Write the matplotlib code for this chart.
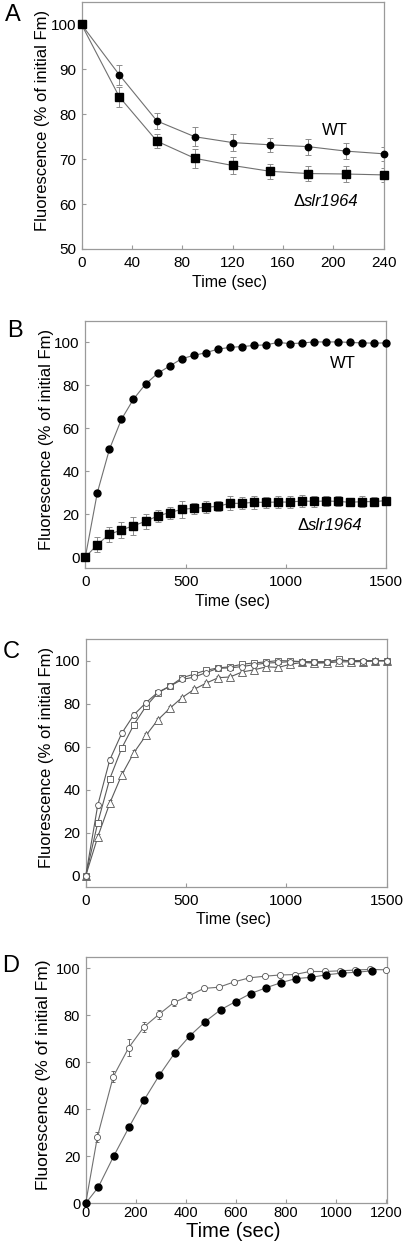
import numpy as np
import matplotlib
matplotlib.use('Agg')
import matplotlib.pyplot as plt

plt.rcParams['font.family'] = ['Liberation Sans', 'DejaVu Sans']

# panel A: quenching, 30 s steps
a_time = [0, 30, 60, 90, 120, 150, 180, 210, 240]
a_wt = [100, 88.8, 78.5, 75.0, 73.7, 73.2, 72.8, 71.8, 71.2]
a_wt_err = [0, 2.2, 1.8, 2.1, 1.8, 1.6, 1.8, 1.7, 1.6]
a_mut = [100, 83.9, 74.0, 70.2, 68.6, 67.3, 66.8, 66.7, 66.5]
a_mut_err = [0, 2.2, 1.6, 2.1, 1.9, 1.7, 1.7, 1.8, 1.5]

# panel B: recovery, 60 s steps
b_time = list(range(0, 1501, 60))
b_wt = [0, 30.1, 50.2, 64.2, 73.6, 80.6, 85.6, 89.0, 92.4, 94.0, 95.2, 96.9, 97.7,
        98.1, 98.6, 98.9, 100.0, 99.5, 99.7, 100.3, 100.2, 100.3, 100.0, 99.8, 99.7, 99.8]
b_mut = [0, 5.9, 10.7, 12.7, 14.7, 16.7, 19.2, 20.8, 22.3, 22.8, 23.3, 23.7, 25.1,
         25.1, 25.6, 25.6, 25.7, 25.7, 26.2, 26.0, 26.2, 26.0, 25.6, 25.9, 25.9, 26.4]
b_mut_err = [0, 3.5, 3.5, 3.6, 4.2, 3.6, 2.8, 2.8, 3.8, 2.5, 2.8, 2.3, 3.2,
             2.8, 2.9, 2.6, 2.6, 2.6, 2.8, 2.6, 2.4, 2.3, 1.8, 2.4, 2.2, 1.9]

# panel C: three open-symbol series
c_time = list(range(0, 1501, 60))
c_circ = [0, 32.8, 53.9, 66.3, 74.8, 80.4, 85.3, 88.1, 91.2, 92.3, 94.4, 96.4, 96.6,
          97.2, 98.1, 98.8, 99.1, 99.5, 99.5, 99.5, 99.5, 100.0, 100.0, 100.0, 100.0, 100.0]
c_sq = [0, 24.7, 45.1, 59.4, 70.2, 78.7, 85.0, 88.1, 92.0, 93.7, 95.5, 96.6, 97.1,
        98.3, 98.9, 99.4, 100.0, 99.8, 99.5, 99.1, 99.2, 100.5, 99.7, 99.5, 100.0, 100.0]
c_tri = [0, 18.1, 33.8, 47.0, 57.2, 65.2, 72.5, 77.9, 82.8, 86.6, 89.5, 92.0, 92.4,
         94.7, 95.7, 97.1, 96.8, 98.3, 99.1, 98.8, 98.9, 99.4, 99.4, 99.5, 99.8, 99.8]
c_err = [0, 1.2, 1.5, 1.5, 1.3, 1.2, 1.0, 1.0, 0.9, 0.9, 0.8, 0.8, 0.8,
         0.7, 0.7, 0.7, 0.6, 0.6, 0.6, 0.6, 0.6, 0.6, 0.6, 0.6, 0.6, 0.6]

# panel D
d_open_time = [0, 47, 110, 172, 232, 292, 352, 412, 472, 532, 594, 654, 716,
               775, 835, 895, 957, 1016, 1076, 1136, 1198]
d_open = [0, 28.4, 53.9, 66.3, 75.0, 80.4, 85.5, 88.3, 91.5, 92.0, 94.3, 96.0, 96.7,
          97.2, 97.4, 98.7, 98.7, 99.0, 99.3, 99.6, 99.4]
d_open_err = [0, 2.1, 2.3, 3.6, 2.0, 1.8, 1.5, 1.6, 1.2, 0.8, 0.8, 0.8, 0.8,
              0.7, 0.7, 0.7, 0.7, 0.7, 0.7, 0.7, 0.7]
d_fill_time = [0, 50, 112, 173, 234, 294, 355, 417, 478, 539, 599, 659, 719,
               779, 840, 900, 961, 1023, 1084, 1144]
d_fill = [0, 6.8, 20.1, 32.4, 44.1, 54.5, 63.9, 71.4, 77.4, 82.4, 85.9, 89.3, 91.7,
          93.9, 95.7, 96.2, 97.3, 98.0, 98.4, 99.0]

W, H = 405, 1247
fig = plt.figure(figsize=(W / 100, H / 100), dpi=100)

spine_c = '#9a9a9a'
line_c = '#707070'
err_c = '#8c8c8c'
ylab = 'Fluorescence (% of initial Fm)'


def px_axes(left, top, right, bottom):
    return fig.add_axes([left / W, 1 - bottom / H, (right - left) / W, (bottom - top) / H])


def style(ax, tsize=11):
    for s in ax.spines.values():
        s.set_color(spine_c)
        s.set_linewidth(0.9)
    ax.tick_params(direction='in', length=3, width=0.8, color=spine_c,
                   labelsize=tsize, top=False, right=False)
    ax.tick_params(axis='x', pad=5)
    ax.tick_params(axis='y', pad=4)


def labels(ax, xl_y, xsize=11.5, ysize=12, yl_x=-0.13):
    ax.set_xlabel('Time (sec)', fontsize=xsize, va='center')
    ax.xaxis.set_label_coords(0.49, xl_y)
    ax.set_ylabel(ylab, fontsize=ysize, va='center')
    ax.yaxis.set_label_coords(yl_x, 0.52)


def mutant_label(ax, x, y):
    # upright delta followed by the italic gene name
    t = ax.text(x, y, '\u0394', fontsize=12, ha='right', va='center')
    ax.annotate('slr1964', xy=(1, 0.5), xycoords=t, fontsize=12, style='italic',
                ha='left', va='center')


# ---- A
ax = px_axes(81.5, 2, 383.5, 249)
style(ax)
ax.errorbar(a_time, a_wt, yerr=a_wt_err, fmt='none', ecolor=err_c, elinewidth=0.7,
            capsize=2, capthick=0.7, zorder=1)
ax.errorbar(a_time, a_mut, yerr=a_mut_err, fmt='none', ecolor=err_c, elinewidth=0.7,
            capsize=2, capthick=0.7, zorder=1)
ax.plot(a_time, a_wt, '-', color=line_c, lw=0.8, marker='o', ms=4.6,
        mfc='black', mec='black', clip_on=False, zorder=3)
ax.plot(a_time, a_mut, '-', color=line_c, lw=0.8, marker='s', ms=5.2,
        mfc='black', mec='black', clip_on=False, zorder=3)
ax.set_xlim(0, 240)
ax.set_ylim(50, 105)
ax.set_xticks(np.arange(0, 241, 40))
ax.set_yticks(np.arange(50, 101, 10))
ax.text(201, 76.3, 'WT', fontsize=12, ha='center', va='center')
mutant_label(ax, 177, 60.5)
labels(ax, -0.134)

# ---- B
ax = px_axes(85.3, 321, 386.3, 568)
style(ax)
ax.errorbar(b_time, b_mut, yerr=b_mut_err, fmt='none', ecolor=err_c, elinewidth=0.7,
            capsize=2, capthick=0.7, zorder=1)
ax.plot(b_time, b_wt, '-', color=line_c, lw=0.8, marker='o', ms=5.0,
        mfc='black', mec='black', clip_on=False, zorder=3)
ax.plot(b_time, b_mut, '-', color=line_c, lw=0.8, marker='s', ms=5.4,
        mfc='black', mec='black', clip_on=False, zorder=3)
ax.set_xlim(0, 1500)
ax.set_ylim(-5, 110)
ax.set_xticks([0, 500, 1000, 1500])
ax.set_yticks(np.arange(0, 101, 20))
ax.text(1284, 90.2, 'WT', fontsize=12, ha='center', va='center')
mutant_label(ax, 1112, 15)
labels(ax, -0.135)

# ---- C
ax = px_axes(85.7, 639, 386.7, 886.7)
style(ax)
for ys, mk, ms in [(c_tri, '^', 5.2), (c_sq, 's', 4.6), (c_circ, 'o', 4.2)]:
    ax.errorbar(c_time, ys, yerr=c_err, fmt='none', ecolor='#555555', elinewidth=0.6,
                capsize=1.2, capthick=0.6, zorder=1)
    ax.plot(c_time, ys, '-', color='#5a5a5a', lw=0.8, marker=mk, ms=ms,
            mfc='white', mec='#555555', mew=0.6, clip_on=False, zorder=3)
ax.set_xlim(0, 1500)
ax.set_ylim(-5, 110)
ax.set_xticks([0, 500, 1000, 1500])
ax.set_yticks(np.arange(0, 101, 20))
labels(ax, -0.134)

# ---- D
ax = px_axes(85.7, 956.7, 387.3, 1203.3)
style(ax, tsize=10.5)
ax.errorbar(d_open_time, d_open, yerr=d_open_err, fmt='none', ecolor='#555555',
            elinewidth=0.6, capsize=1.5, capthick=0.6, zorder=1)
ax.plot(d_open_time, d_open, '-', color=line_c, lw=0.8, marker='o', ms=4.4,
        mfc='white', mec='#555555', mew=0.6, clip_on=False, zorder=3)
ax.plot(d_fill_time, d_fill, '-', color=line_c, lw=0.8, marker='o', ms=5.0,
        mfc='black', mec='black', clip_on=False, zorder=4)
ax.set_xlim(0, 1205)
ax.set_ylim(0, 105)
ax.set_xticks(np.arange(0, 1201, 200))
ax.set_yticks(np.arange(0, 101, 20))
ax.tick_params(axis='x', pad=2)
labels(ax, -0.115, xsize=14.5, ysize=12.5, yl_x=-0.14)

# panel letters
for lab, x, y in [('A', 5, 15), ('B', 7, 331), ('C', 3, 652), ('D', 2, 966)]:
    fig.text(x / W, 1 - y / H, lab, fontsize=17, ha='left', va='center')

fig.savefig('out.png', dpi=100)
